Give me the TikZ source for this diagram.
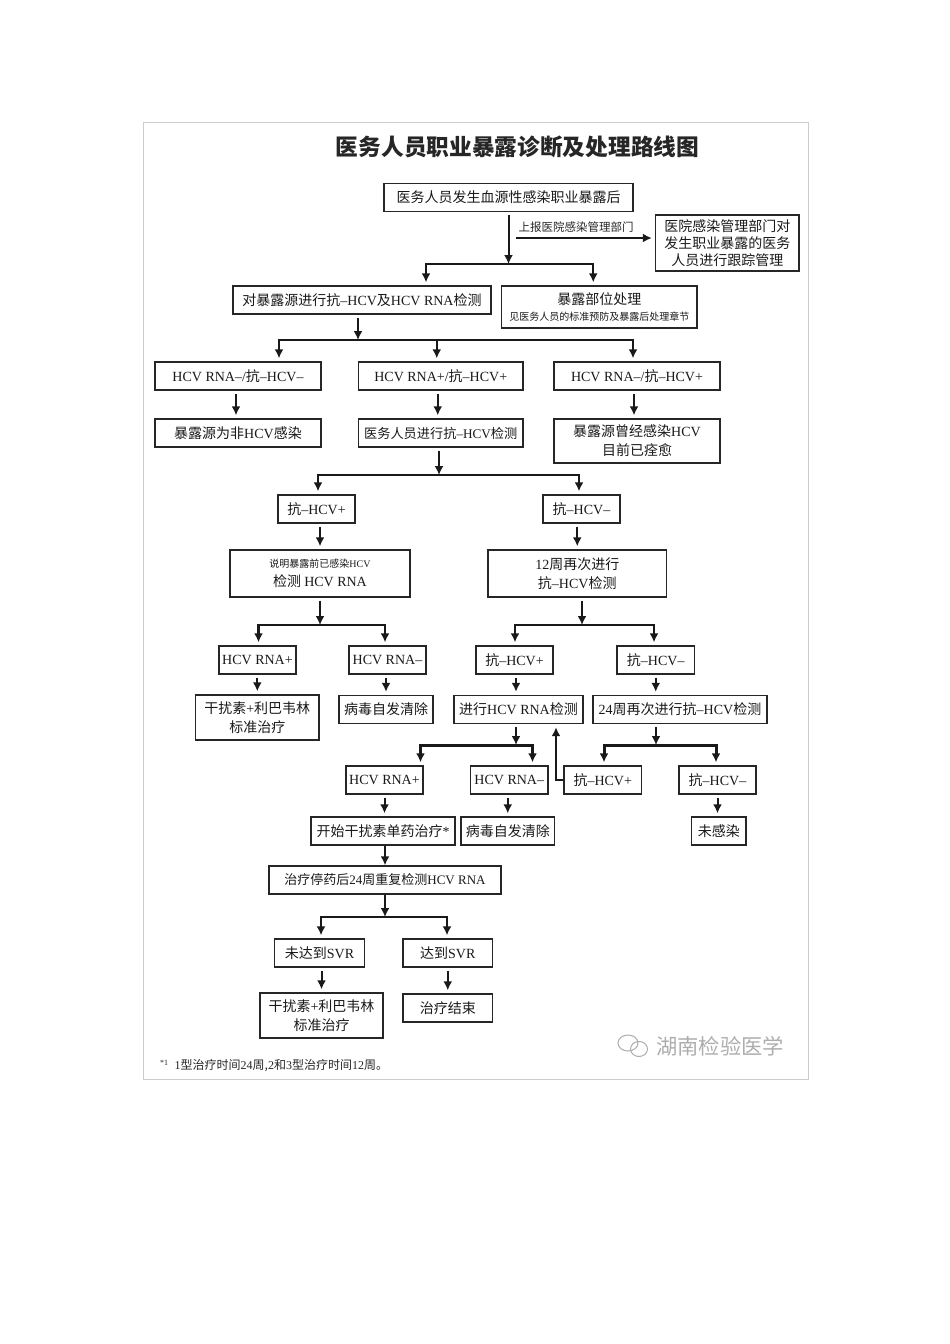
\documentclass[tikz,border=0pt]{standalone}
\usepackage{fontspec}
\usetikzlibrary{arrows.meta}
\setmainfont{Noto Sans CJK SC}
\newfontfamily\latfont{Liberation Serif}
\newcommand{\lat}[1]{{\latfont #1}}
\newcommand{\smalltext}{\fontsize{10}{12}\selectfont}

\begin{document}
\begin{tikzpicture}[
			x=1pt, y=-1pt,
			>={Latex[length=9pt,width=9pt]},
			main/.style = {draw=black!85, line width=1.4pt, inner sep=0pt, minimum height=28pt, text=black!90, align=center, font=\fontsize{14}{19}\selectfont},
			arr/.style = {->, line width=2pt, black!90, shorten <=3pt, shorten >=3pt},
			fork/.style = {->, line width=2.4pt, black!90, shorten >=3pt}
		]
		\useasboundingbox (0,0) rectangle (950,1344);
		\draw[black!20, line width=0.8pt] (143,122) rectangle (808,1079);
		\node[font=\bfseries\fontsize{22.7}{26}\selectfont, text=black!85] (t) at (517.5,147) {医务人员职业暴露诊断及处理路线图};

		\node[main, minimum width=249pt] (1) at (508.5,197.5) {医务人员发生血源性感染职业暴露后};
		\node[main, minimum width=143.5pt, minimum height=56pt, font=\fontsize{14}{17}\selectfont] (2) at (727.25,243) {医院感染管理部门对\\发生职业暴露的医务\\人员进行跟踪管理};
		\node[main, minimum width=258pt] (3) at (362,300) {对暴露源进行抗\lat{–HCV}及\lat{HCV RNA}检测};
		\node[main, minimum width=195.5pt, minimum height=42pt] (4) at (599.25,307) {暴露部位处理\\[-3pt]{\smalltext 见医务人员的标准预防及暴露后处理章节}};
		\node[main, minimum width=166pt] (5) at (238,376) {\lat{HCV RNA–/}抗\lat{–HCV–}};
		\node[main, minimum width=164.5pt] (6) at (440.75,376) {\lat{HCV RNA+/}抗\lat{–HCV+}};
		\node[main, minimum width=166pt] (7) at (637,376) {\lat{HCV RNA–/}抗\lat{–HCV+}};
		\node[main, minimum width=166pt] (8) at (238,433) {暴露源为非\lat{HCV}感染};
		\node[main, minimum width=164.5pt, font=\fontsize{13.2}{19}\selectfont] (9) at (440.75,433) {医务人员进行抗\lat{–HCV}检测};
		\node[main, minimum width=166pt, minimum height=44pt] (10) at (637,441) {暴露源曾经感染\lat{HCV}\\目前已痊愈};

		\node[main, minimum width=77pt] (11) at (316.5,509) {抗\lat{–HCV+}};
		\node[main, minimum width=77pt] (12) at (581.5,509) {抗\lat{–HCV–}};
		\node[main, minimum width=180pt, minimum height=47pt] (13) at (320,573.5) {{\smalltext 说明暴露前已感染\lat{HCV}}\\检测 \lat{HCV RNA}};
		\node[main, minimum width=178.5pt, minimum height=47pt] (14) at (577.25,573.5) {\lat{12}周再次进行\\抗\lat{–HCV}检测};
		\node[main, minimum width=77pt] (15) at (257.5,660) {\lat{HCV RNA+}};
		\node[main, minimum width=77pt] (16) at (387.5,660) {\lat{HCV RNA–}};
		\node[main, minimum width=77pt] (17) at (514.5,660) {抗\lat{–HCV+}};
		\node[main, minimum width=77.5pt] (18) at (655.75,660) {抗\lat{–HCV–}};
		\node[main, minimum width=123.5pt, minimum height=45pt] (19) at (257.3,717.5) {干扰素\lat{+}利巴韦林\\标准治疗};
		\node[main, minimum width=94pt] (20) at (386,709.5) {病毒自发清除};
		\node[main, minimum width=129pt] (21) at (518.5,709.5) {进行\lat{HCV RNA}检测};
		\node[main, minimum width=174pt] (22) at (680,709.5) {\lat{24}周再次进行抗\lat{–HCV}检测};

		\node[main, minimum width=77pt] (23) at (384.5,780) {\lat{HCV RNA+}};
		\node[main, minimum width=77.5pt] (24) at (509.25,780) {\lat{HCV RNA–}};
		\node[main, minimum width=77.5pt] (25) at (602.75,780) {抗\lat{–HCV+}};
		\node[main, minimum width=77pt] (26) at (717.5,780) {抗\lat{–HCV–}};
		\node[main, minimum width=144pt] (27) at (383,831) {开始干扰素单药治疗\lat{*}};
		\node[main, minimum width=93.5pt] (28) at (507.75,831) {病毒自发清除};
		\node[main, minimum width=54.5pt] (29) at (718.8,831) {未感染};
		\node[main, minimum width=232pt, font=\fontsize{13}{19}\selectfont] (30) at (385,880) {治疗停药后\lat{24}周重复检测\lat{HCV RNA}};
		\node[main, minimum width=90pt] (31) at (319.5,953) {未达到\lat{SVR}};
		\node[main, minimum width=89.5pt] (32) at (447.75,953) {达到\lat{SVR}};
		\node[main, minimum width=123pt, minimum height=45pt] (33) at (321.5,1015.5) {干扰素\lat{+}利巴韦林\\标准治疗};
		\node[main, minimum width=89.5pt] (34) at (447.75,1008) {治疗结束};

		\node[text=black!85, font=\fontsize{11.5}{14}\selectfont] (n1) at (576,227) {上报医院感染管理部门};
		\node[anchor=west, inner sep=0pt, text=black!85, font=\fontsize{12}{14}\selectfont] (n2) at (160,1066) {\lat{\textsuperscript{*1}\ \ 1}型治疗时间\lat{24}周,\lat{2}和\lat{3}型治疗时间\lat{12}周。};
		\node[anchor=west, inner sep=0pt, text=black!32, font=\fontsize{21.3}{24}\selectfont] (n3) at (656,1046) {湖南检验医学};
		\draw[black!32, line width=1pt] (628,1043) ellipse (10pt and 8pt);
		\draw[black!32, line width=1pt] (639,1049) ellipse (8.5pt and 7.5pt);

		\coordinate (j1) at (508.5,264);
		\coordinate (j2) at (358,340);
		\coordinate (j3) at (439,475);
		\coordinate (j4) at (320,625);
		\coordinate (j5) at (582,625);
		\coordinate (j6) at (516,745);
		\coordinate (j7) at (656,745);
		\coordinate (j8) at (385,917);
		\coordinate (c1) at (516,238);

		\draw[arr, shorten >=0pt] (1) -- (j1);
		\draw[arr, shorten <=0pt] (c1) -- (c1 -| 2.west);
		\draw[fork] (j1) -| ([xshift=64pt]3.north);
		\draw[fork] (j1) -| ([xshift=-6pt]4.north);
		\draw[arr, shorten >=0pt] ([xshift=-4pt]3.south) -- (j2);
		\draw[fork] (j2) -| ([xshift=41pt]5.north);
		\draw[fork] (j2) -| ([xshift=-4pt]6.north);
		\draw[fork] (j2) -| ([xshift=-4pt]7.north);
		\draw[arr] ([xshift=-2pt]5.south) -- ([xshift=-2pt]8.north);
		\draw[arr] ([xshift=-3pt]6.south) -- ([xshift=-3pt]9.north);
		\draw[arr] ([xshift=-3pt]7.south) -- ([xshift=-3pt]10.north);
		\draw[arr, shorten >=0pt] ([xshift=-1.75pt]9.south) -- (j3);
		\draw[fork] (j3) -| ([xshift=1.5pt]11.north);
		\draw[fork] (j3) -| ([xshift=-2.5pt]12.north);
		\draw[arr] (13 |- 11.south) -- (13);
		\draw[arr] (14 |- 12.south) -- (14);
		\draw[arr, shorten >=0pt] (13) -- (j4);
		\draw[arr, shorten >=0pt] (j5 |- 14.south) -- (j5);
		\draw[fork] (j4) -| ([xshift=1pt]15.north);
		\draw[fork] (j4) -| ([xshift=-2.5pt]16.north);
		\draw[fork] (j5) -| ([xshift=0.5pt]17.north);
		\draw[fork] (j5) -| ([xshift=-1.75pt]18.north);
		\draw[arr] (19 |- 15.south) -- (19);
		\draw[arr] (20 |- 16.south) -- (20);
		\draw[arr] ([xshift=1.5pt]17.south) -- ([xshift=1.5pt]17.south |- 21.north);
		\draw[arr] (18.south) -- (18 |- 22.north);
		\draw[arr, shorten >=0pt] (j6 |- 21.south) -- (j6);
		\draw[arr, shorten >=0pt] (j7 |- 22.south) -- (j7);
		\draw[fork, line width=3pt] (j6) -| ([xshift=36pt]23.north);
		\draw[fork, line width=3pt] (j6) -| ([xshift=23.25pt]24.north);
		\draw[fork, line width=3pt] (j7) -| ([xshift=1.25pt]25.north);
		\draw[fork, line width=3pt] (j7) -| ([xshift=-1.5pt]26.north);
		\draw[arr, shorten <=0pt] (25.west) -| ([xshift=37.5pt]21.south);
		\draw[arr] (23.south) -- (23 |- 27.north);
		\draw[arr] (28 |- 24.south) -- (28);
		\draw[arr] (26.south) -- (26 |- 29.north);
		\draw[arr, shorten <=0pt, shorten >=0pt] (30 |- 27.south) -- (30);
		\draw[arr, shorten <=0pt, shorten >=0pt] (30) -- (j8);
		\draw[fork] (j8) -| ([xshift=1.5pt]31.north);
		\draw[fork] (j8) -| ([xshift=-0.75pt]32.north);
		\draw[arr] (33 |- 31.south) -- (33);
		\draw[arr] (32.south) -- (34.north);
	\end{tikzpicture}
\end{document}
